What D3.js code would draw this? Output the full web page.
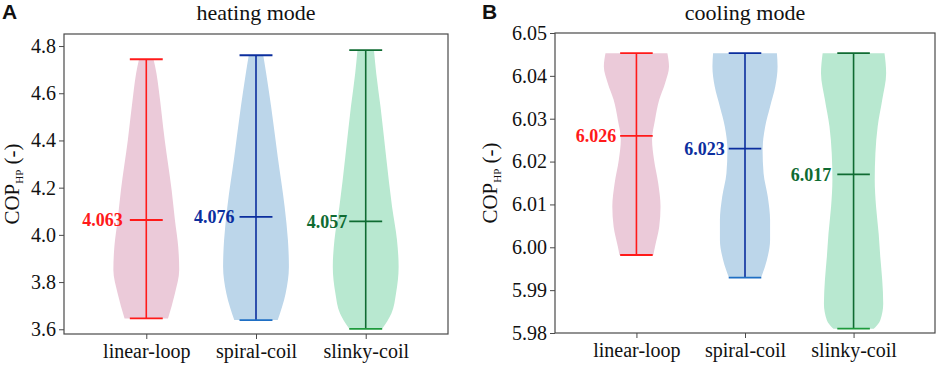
<!DOCTYPE html>
<html>
<head>
<meta charset="utf-8">
<script src="https://cdn.jsdelivr.net/npm/d3@7"></script>
<style>
  html, body { margin: 0; padding: 0; background: #fff; }
  svg { display: block; }
  svg text { font-family: 'Liberation Serif', 'Times New Roman', serif; }
</style>
</head>
<body>
<svg id="chart" width="941" height="366"></svg>
<script>
// categories shared by both panels
const categories = ['linear-loop', 'spiral-coil', 'slinky-coil'];

// heating mode
const heatMeans = [4.063, 4.076, 4.057];
const heatMins = [3.646, 3.639, 3.602];
const heatMaxs = [4.744, 4.761, 4.783];
const heatTicks = [3.6, 3.8, 4.0, 4.2, 4.4, 4.6, 4.8];
// violin outline: [value, relative half width]
const heatLinearProfile = [[4.744, 0.22], [4.684, 0.31], [4.614, 0.38], [4.402, 0.56], [4.190, 0.77], [4.063, 0.87], [3.950, 0.97], [3.851, 1.0], [3.752, 0.87], [3.646, 0.66]];
const heatSpiralProfile = [[4.761, 0.22], [4.684, 0.31], [4.543, 0.46], [4.331, 0.66], [4.119, 0.87], [3.978, 0.97], [3.865, 1.0], [3.752, 0.9], [3.639, 0.66]];
const heatSlinkyProfile = [[4.783, 0.25], [4.684, 0.32], [4.543, 0.45], [4.331, 0.62], [4.119, 0.80], [3.978, 0.95], [3.865, 1.0], [3.752, 0.92], [3.667, 0.78], [3.602, 0.50]];

// cooling mode
const coolMeans = [6.026, 6.023, 6.017];
const coolMins = [5.9982, 5.9929, 5.9810];
const coolMaxs = [6.0453, 6.0453, 6.0453];
const coolTicks = [5.98, 5.99, 6.00, 6.01, 6.02, 6.03, 6.04, 6.05];
const coolLinearProfile = [[6.0453, 0.95], [6.0422, 1.0], [6.0383, 0.88], [6.0344, 0.70], [6.0297, 0.57], [6.0251, 0.48], [6.0204, 0.54], [6.0149, 0.67], [6.0095, 0.74], [6.0048, 0.70], [6.0001, 0.57], [5.9982, 0.52]];
const coolSpiralProfile = [[6.0453, 0.98], [6.0422, 1.0], [6.0375, 0.93], [6.0328, 0.77], [6.0282, 0.62], [6.0227, 0.54], [6.0173, 0.57], [6.0118, 0.70], [6.0063, 0.77], [6.0017, 0.77], [5.9970, 0.67], [5.9929, 0.49]];
const coolSlinkyProfile = [[6.0453, 0.95], [6.0406, 1.0], [6.0344, 0.88], [6.0282, 0.74], [6.0219, 0.67], [6.0157, 0.65], [6.0095, 0.69], [6.0032, 0.77], [5.9978, 0.82], [5.9923, 0.88], [5.9869, 0.91], [5.9830, 0.82], [5.9810, 0.62]];

const fillColors = ['#ebcad9', '#bcd6ea', '#b8e8d0'];
const lineColors = ['#ff1a1a', '#0b2e9e', '#0f6b32'];
const minCapColors = ['#ff1a1a', '#1f6fc4', '#1d9a3c'];

const serif = "'Liberation Serif', 'Times New Roman', serif";
const svg = d3.select('#chart');

function drawPanel(opt) {
  const x = d3.scaleLinear().domain([0.25, 3.75]).range([opt.left, opt.right]);
  const y = d3.scaleLinear().domain(opt.yDomain).range([opt.bottom, opt.top]);
  const g = svg.append('g');
  const halfW = 0.3;
  const capW = 0.15;

  // violins
  opt.profiles.forEach(function (prof, i) {
    const cx = i + 1;
    const area = d3.area()
      .curve(d3.curveMonotoneY)
      .y(function (d) { return y(d[0]); })
      .x0(function (d) { return x(cx - halfW * d[1]); })
      .x1(function (d) { return x(cx + halfW * d[1]); });
    const sorted = prof.slice().sort(function (a, b) { return a[0] - b[0]; });
    g.append('path')
      .attr('d', area(sorted))
      .attr('fill', fillColors[i]);
  });

  // bars, caps, means
  categories.forEach(function (c, i) {
    const cx = i + 1;
    g.append('line')
      .attr('x1', x(cx)).attr('x2', x(cx))
      .attr('y1', y(opt.maxs[i])).attr('y2', y(opt.mins[i]))
      .attr('stroke', lineColors[i]).attr('stroke-width', 1.6);
    g.append('line')
      .attr('x1', x(cx - capW)).attr('x2', x(cx + capW))
      .attr('y1', y(opt.maxs[i])).attr('y2', y(opt.maxs[i]))
      .attr('stroke', lineColors[i]).attr('stroke-width', 1.8);
    g.append('line')
      .attr('x1', x(cx - capW)).attr('x2', x(cx + capW))
      .attr('y1', y(opt.mins[i])).attr('y2', y(opt.mins[i]))
      .attr('stroke', minCapColors[i]).attr('stroke-width', 1.8);
    g.append('line')
      .attr('x1', x(cx - capW)).attr('x2', x(cx + capW))
      .attr('y1', y(opt.means[i])).attr('y2', y(opt.means[i]))
      .attr('stroke', lineColors[i]).attr('stroke-width', 1.8);
    g.append('text')
      .attr('x', x(cx - capW) - opt.labelGap[i])
      .attr('y', y(opt.means[i]))
      .attr('dy', '0.35em')
      .attr('text-anchor', 'end')
      .style('font-family', serif)
      .attr('font-weight', 'bold')
      .attr('font-size', 18)
      .attr('fill', lineColors[i])
      .text(opt.means[i].toFixed(3));
  });

  // frame
  g.append('rect')
    .attr('x', opt.left).attr('y', opt.top)
    .attr('width', opt.right - opt.left).attr('height', opt.bottom - opt.top)
    .attr('fill', 'none').attr('stroke', '#4a4a4a').attr('stroke-width', 1.2);

  const yAxis = d3.axisLeft(y).tickValues(opt.ticks).tickSize(5).tickPadding(3)
    .tickFormat(d3.format(opt.fmt));
  const ya = g.append('g').attr('transform', 'translate(' + opt.left + ',0)').call(yAxis);
  ya.attr('font-family', null);
  ya.select('.domain').remove();
  ya.selectAll('line').attr('stroke', '#4a4a4a').attr('stroke-width', 1);
  ya.selectAll('text').style('font-family', serif).attr('font-size', 20).attr('fill', '#111');

  const xAxis = d3.axisBottom(x).tickValues([1, 2, 3]).tickSize(5).tickPadding(6)
    .tickFormat(function (d) { return categories[d - 1]; });
  const xa = g.append('g').attr('transform', 'translate(0,' + opt.bottom + ')').call(xAxis);
  xa.attr('font-family', null);
  xa.select('.domain').remove();
  xa.selectAll('line').attr('stroke', '#4a4a4a').attr('stroke-width', 1);
  xa.selectAll('text').style('font-family', serif).attr('font-size', 20).attr('fill', '#111')
    .attr('y', 24).attr('dy', 0);

  // y label
  const yl = g.append('text')
    .attr('transform', 'translate(' + opt.yLabelX + ',' + ((opt.top + opt.bottom) / 2) + ') rotate(-90)')
    .attr('text-anchor', 'middle')
    .style('font-family', serif)
    .attr('font-size', 21)
    .attr('fill', '#111');
  yl.append('tspan').text('COP');
  yl.append('tspan').attr('font-size', 11).attr('dy', 4).text('HP');
  yl.append('tspan').attr('dy', -4).text(' (-)');

  // title
  g.append('text')
    .attr('x', (opt.left + opt.right) / 2)
    .attr('y', 20)
    .attr('text-anchor', 'middle')
    .style('font-family', serif)
    .attr('font-size', 22)
    .attr('fill', '#111')
    .text(opt.title);

  g.append('text')
    .attr('x', opt.letterX)
    .attr('y', 19)
    .style('font-family', "'Liberation Sans', Arial, sans-serif")
    .attr('font-weight', 'bold')
    .attr('font-size', 21)
    .attr('fill', '#111')
    .text(opt.letter);
}

drawPanel({
  left: 64, right: 448, top: 34, bottom: 334,
  yDomain: [3.58, 4.851], ticks: heatTicks, fmt: '.1f',
  profiles: [heatLinearProfile, heatSpiralProfile, heatSlinkyProfile],
  means: heatMeans, mins: heatMins, maxs: heatMaxs,
  labelGap: [7, 5, 2],
  title: 'heating mode', letter: 'A', letterX: 2, yLabelX: 19
});

drawPanel({
  left: 555, right: 935, top: 33, bottom: 333,
  yDomain: [5.98, 6.05], ticks: coolTicks, fmt: '.2f',
  profiles: [coolLinearProfile, coolSpiralProfile, coolSlinkyProfile],
  means: coolMeans, mins: coolMins, maxs: coolMaxs,
  labelGap: [4, 4, 6],
  title: 'cooling mode', letter: 'B', letterX: 482, yLabelX: 497
});
</script>
</body>
</html>
